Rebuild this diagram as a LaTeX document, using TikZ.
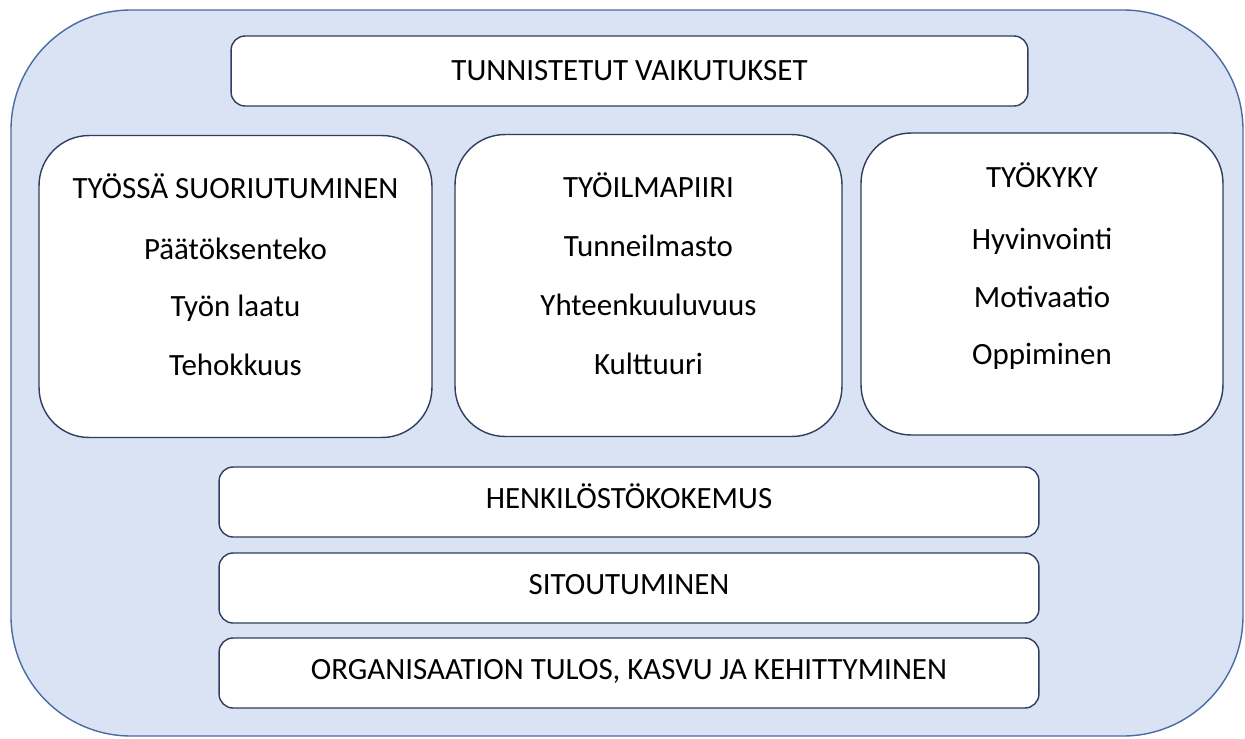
\documentclass[tikz,border=0pt]{standalone}
\usepackage{fontspec}
\setmainfont{Carlito}
\usetikzlibrary{positioning}
\definecolor{hellblau}{HTML}{DAE3F3}
\definecolor{randblau}{HTML}{4A6AA6}
\definecolor{kastenrand}{HTML}{2F3E5E}

\begin{document}
\begin{tikzpicture}[x=0.02cm, y=-0.02cm, % 1 Einheit = 1 Pixel
  kasten/.style={draw=kastenrand, fill=white, line width=0.8pt, rounded corners=0.28cm, minimum height=1.4cm, inner sep=0pt},
  spalte/.style={draw=kastenrand, fill=white, line width=0.8pt, rounded corners=1.0cm, minimum height=6.04cm, inner sep=0pt},
  schrift/.style={anchor=base, inner sep=0pt, font=\fontsize{17.6}{21}\selectfont}]

\useasboundingbox (0,0) rectangle (1245,738);

% Hintergrund
\draw[randblau, fill=hellblau, line width=0.8pt, rounded corners=2.4cm] (11,10) rectangle (1243,736);

% Oberer Kasten
\node[kasten, minimum width=15.94cm] (vaik) at (629.5,71) {};
\node[schrift] (vaiktxt) at (629.5,80) {TUNNISTETUT VAIKUTUKSET};

% Drei Spalten
\node[spalte, minimum width=7.86cm] (suor) at (235.5,286.5) {};
\node[spalte, minimum width=7.74cm] (ilma) at (648.5,285.5) {};
\node[spalte, minimum width=7.24cm] (kyky) at (1042,284) {};

\foreach \y/\txt in {198/TYÖSSÄ SUORIUTUMINEN, 259/Päätöksenteko, 316/Työn laatu, 375/Tehokkuus} {
  \node[schrift] (suor\y) at (235.5,\y) {\txt};
}
\foreach \y/\txt in {197/TYÖILMAPIIRI, 256/Tunneilmasto, 315/Yhteenkuuluvuus, 374/Kulttuuri} {
  \node[schrift] (ilma\y) at (648.5,\y) {\txt};
}
\foreach \y/\txt in {187/TYÖKYKY, 249/Hyvinvointi, 307/Motivaatio, 364/Oppiminen} {
  \node[schrift] (kyky\y) at (1042,\y) {\txt};
}

% Untere Kaesten
\foreach \n/\y/\txt in {henk/502/HENKILÖSTÖKOKEMUS, sito/588/SITOUTUMINEN, orga/673/{ORGANISAATION TULOS, KASVU JA KEHITTYMINEN}} {
  \node[kasten, minimum width=16.4cm] (\n) at (629,\y) {};
  \node[schrift] (\n txt) at (629,\y+6.5) {\txt};
}

\end{tikzpicture}
\end{document}
